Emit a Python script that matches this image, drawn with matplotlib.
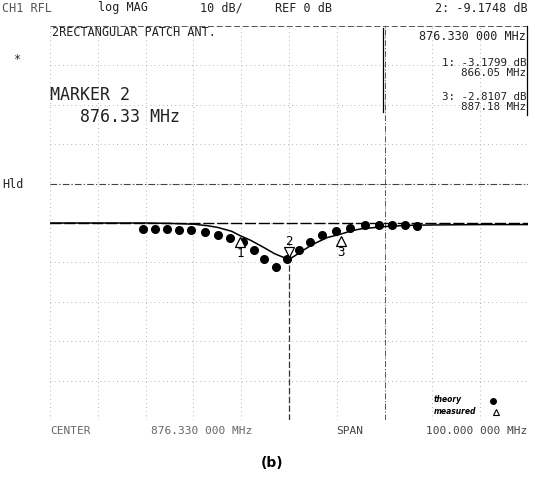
import numpy as np
import matplotlib.pyplot as plt
from matplotlib.transforms import offset_copy

# frequency offsets from center (MHz) and measured trace (dB)
center_mhz = 876.33
span_mhz = 100.0
trace_offset = [-50, -30, -25, -20, -17, -15, -12, -10.28, -8, -5, -3, -1, 0,
                1, 3, 5, 8, 10.85, 13, 15, 20, 25, 30, 40, 50]
trace_db = [0.0, 0.0, -0.1, -0.3, -0.7, -1.1, -2.1, -3.18, -4.4, -6.4, -7.8, -8.8, -9.17,
            -8.5, -6.9, -5.4, -3.7, -2.81, -2.0, -1.5, -0.9, -0.6, -0.5, -0.4, -0.4]

# theory points
theory_offset = [-30.6, -28.0, -25.6, -23.0, -20.4, -17.6, -14.9, -12.3, -9.7, -7.3,
                 -5.2, -2.8, -0.4, 2.1, 4.4, 7.0, 9.8, 12.8, 15.9, 18.8, 21.6, 24.3, 26.7]
theory_db = [-1.5, -1.45, -1.5, -1.7, -1.85, -2.3, -3.0, -3.8, -4.9, -6.9,
             -9.1, -11.2, -9.1, -6.9, -4.9, -3.1, -1.95, -1.3, -0.6, -0.45, -0.45, -0.5, -0.7]

# markers: number, frequency (MHz), value (dB)
marker_num = [1, 2, 3]
marker_freq = [866.05, 876.33, 887.18]
marker_db = [-3.1799, -9.1748, -2.8107]

W, H = 535, 478
fig = plt.figure(figsize=(W / 100, H / 100), dpi=100)
ax = fig.add_axes([50 / W, 1 - 420 / H, 478 / W, 394 / H])

f_lo = center_mhz - span_mhz / 2
f_hi = center_mhz + span_mhz / 2
ax.set_xlim(f_lo, f_hi)
ax.set_ylim(-50, 50)
for s in ax.spines.values():
    s.set_visible(False)
ax.set_xticks([])
ax.set_yticks([])

# instrument graticule, 10 x 10 (faint, as on the scan)
grid_style = dict(color='#9a9a9a', lw=0.6, ls=(0, (1, 4)), zorder=1)
for k in range(11):
    ax.axvline(f_lo + k * span_mhz / 10, **grid_style)
    ax.axhline(-50 + k * 10, **grid_style)
ax.axhline(50, color='#555555', lw=0.7, ls=(0, (6, 3)), zorder=1)
ax.axhline(10, color='#444444', lw=0.8, ls=(0, (6, 2, 1, 2)), zorder=1)
ax.axvline(center_mhz, ymax=0.45, color='#333333', lw=0.9, ls=(0, (5, 2)), zorder=1)
ax.axvline(f_lo + 7 * span_mhz / 10, color='#555555', lw=0.7, ls=(0, (6, 2, 1, 2)), zorder=1)
# reference line
ax.axhline(0, color='black', lw=1.0, ls=(0, (8, 2)), zorder=2)

trace_f = center_mhz + np.array(trace_offset)
ax.plot(trace_f, trace_db, color='black', lw=1.1, zorder=3)

theory_f = center_mhz + np.array(theory_offset)
ax.plot(theory_f, theory_db, 'o', color='black', ms=5.5, zorder=4)

# marker triangles
for n, f, v in zip(marker_num, marker_freq, marker_db):
    if n == 2:
        tr = offset_copy(ax.transData, fig=fig, x=0, y=5, units='points')
        ax.plot([f], [v], marker='v', ms=7, mfc='white', mec='black', mew=0.9,
                transform=tr, zorder=5)
        ax.annotate(str(n), (f, v), xytext=(0, 13), textcoords='offset points',
                    ha='center', va='center', fontsize=9, family='DejaVu Sans Mono')
    else:
        tr = offset_copy(ax.transData, fig=fig, x=0, y=-5, units='points')
        ax.plot([f], [v], marker='^', ms=7, mfc='white', mec='black', mew=0.9,
                transform=tr, zorder=5)
        ax.annotate(str(n), (f, v), xytext=(0, -13), textcoords='offset points',
                    ha='center', va='center', fontsize=9, family='DejaVu Sans Mono')

# annotation box on the upper right
fig.add_artist(plt.Line2D([383 / W, 383 / W], [1 - 28 / H, 1 - 112 / H],
                          color='black', lw=0.9))
fig.add_artist(plt.Line2D([527 / W, 527 / W], [1 - 26 / H, 1 - 115 / H],
                          color='black', lw=0.9))


def txt(x, y, s, size=8.5, ha='left', color='#222222', **kw):
    fig.text(x / W, 1 - y / H, s, ha=ha, va='center', fontsize=size,
             family='DejaVu Sans Mono', color=color, **kw)


txt(2, 8, 'CH1 RFL', color='#555555')
txt(98, 8, 'log MAG')
txt(200, 8, '10 dB/')
txt(275, 8, 'REF 0 dB')
txt(528, 8, '2: -9.1748 dB', ha='right')
txt(52, 32, '2RECTANGULAR PATCH ANT.')
txt(526, 37, '876.330 000 MHz', ha='right')
txt(526, 63, '1: -3.1799 dB', size=7.8, ha='right')
txt(526, 73, '866.05 MHz', size=7.8, ha='right')
txt(526, 97, '3: -2.8107 dB', size=7.8, ha='right')
txt(526, 107, '887.18 MHz', size=7.8, ha='right')
txt(14, 60, '*')
txt(50, 95, 'MARKER 2', size=12)
txt(80, 117, '876.33 MHz', size=12)
txt(2, 184, 'Hld')
txt(50, 431, 'CENTER', size=8, color='#666666')
txt(252, 431, '876.330 000 MHz', size=8, ha='right', color='#666666')
txt(336, 431, 'SPAN', size=8, color='#444444')
txt(527, 431, '100.000 000 MHz', size=8, ha='right', color='#444444')

fig.text(434 / W, 1 - 400 / H, 'theory', fontsize=5.5, fontweight='bold',
         style='italic', va='center')
fig.text(434 / W, 1 - 412 / H, 'measured', fontsize=5.5, fontweight='bold',
         style='italic', va='center')
fig.add_artist(plt.Line2D([493 / W], [1 - 401 / H], marker='o', ms=4, color='black'))
fig.add_artist(plt.Line2D([496 / W], [1 - 412 / H], marker='^', ms=5, mfc='white',
                          mec='black', mew=0.8))

fig.text(272 / W, 1 - 463 / H, '(b)', fontsize=10, fontweight='bold',
         ha='center', va='center')

fig.savefig('out.png', dpi=100)
